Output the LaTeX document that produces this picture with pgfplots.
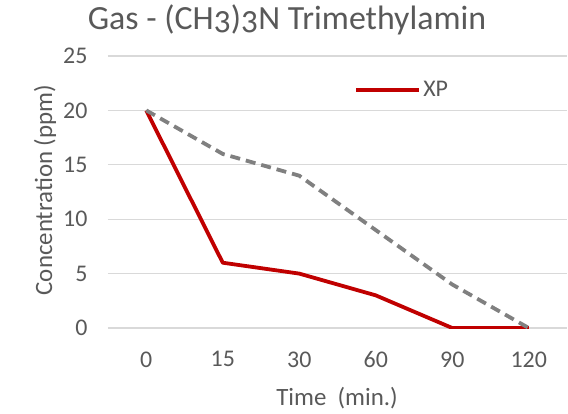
\documentclass[border=0pt]{standalone}
\usepackage{pgfplots}
\pgfplotsset{compat=1.18}
\usepackage{fontspec}
\setmainfont{Carlito}
\newfontfamily\titlefont[Numbers=OldStyle]{Carlito}
\definecolor{txt}{HTML}{595959}
\definecolor{gridgray}{HTML}{D9D9D9}
\definecolor{xpred}{HTML}{C00000}
\definecolor{refgray}{HTML}{808080}
\begin{document}
\begin{tikzpicture}
\begin{axis}[
  at={(0,0)}, anchor=south west,
  scale only axis,
  width=459bp, height=272bp,
  xmin=-0.5, xmax=5.5,
  ymin=0, ymax=25,
  xtick={0,1,2,3,4,5},
  xticklabels={0,15,30,60,90,120},
  ytick={0,5,10,15,20,25},
  axis line style={draw=none},
  major tick length=0pt,
  ymajorgrids, grid style={draw=gridgray, line width=1.3bp},
  tick label style={font=\fontsize{24}{27}\selectfont, text=txt},
  /pgf/number format/assume math mode=true,
  xticklabel style={yshift=-20bp},
  yticklabel style={xshift=-17bp},
  title={\titlefont\fontsize{34}{40}\selectfont Gas - (CH3)3N Trimethylamin},
  title style={at={(axis description cs:0.39,1.11)}, anchor=center, text=txt},
  xlabel={Time\ \ (min.)},
  ylabel={Concentration (ppm)},
  label style={font=\fontsize{25}{29}\selectfont, text=txt},
  xlabel style={at={(axis description cs:0.499,-0.257)}, anchor=center},
  ylabel style={at={(axis description cs:-0.137,0.507)}, anchor=center},
  legend style={at={(axis description cs:0.53,0.875)}, anchor=west, draw=none, fill=none,
    font=\fontsize{24}{27}\selectfont, text=txt},
  legend image code/.code={\draw[#1] (0bp,0bp) -- (63bp,0bp);},
  legend cell align=left,
]
\addplot[xpred, line width=3.8bp, line join=round] coordinates {(0,20) (1,6) (2,5) (3,3) (4,0) (5,0)};
\addlegendentry{XP}
\addplot[refgray, line width=3.8bp, line join=round, dash pattern=on 10bp off 6bp, forget plot] coordinates {(0,20) (1,16) (2,14) (3,9) (4,4) (5,0)};
\end{axis}
\pgfresetboundingbox
\path[use as bounding box] (-108bp,-86bp) rectangle (460bp,328bp);
\end{tikzpicture}
\end{document}
